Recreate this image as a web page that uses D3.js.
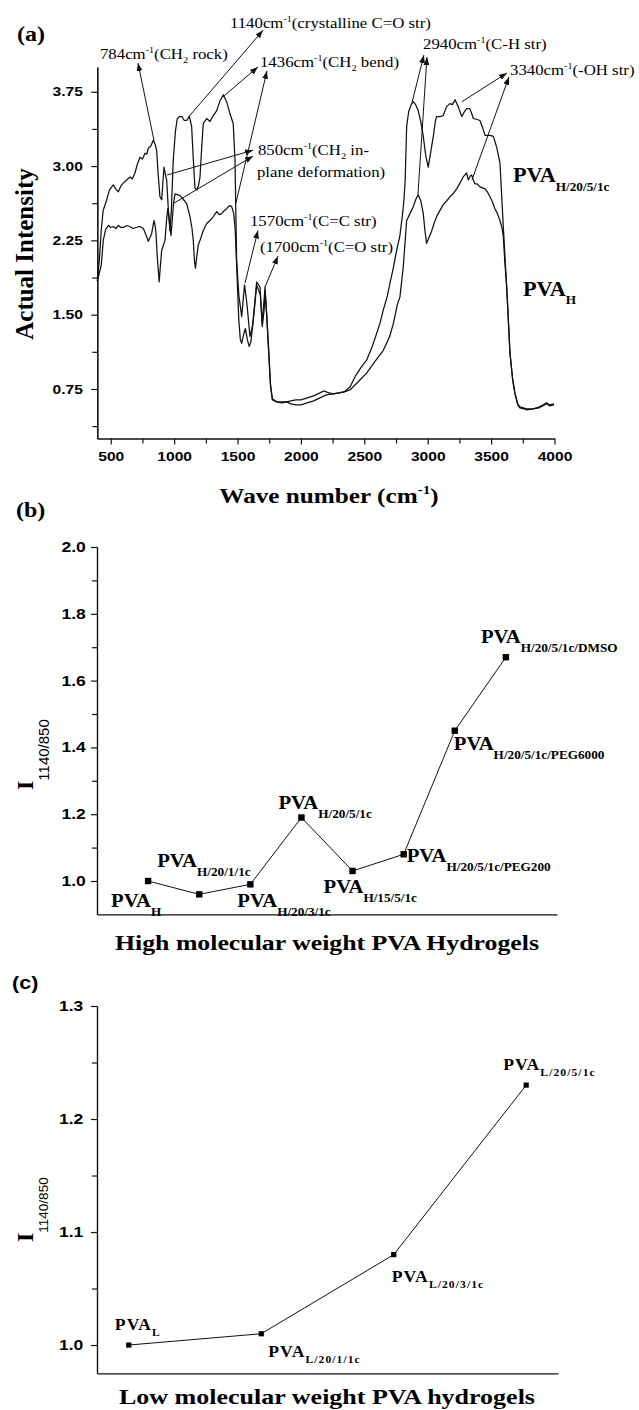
<!DOCTYPE html>
<html>
<head>
<meta charset="utf-8">
<script src="https://cdn.jsdelivr.net/npm/d3@7"></script>
<style>
  html, body { margin: 0; padding: 0; background: #fff; }
  svg { display: block; }
</style>
</head>
<body>
<svg id="fig" width="639" height="1410"></svg>
<script>
// ---------------- data ----------------
// FTIR spectrum of PVA H/20/5/1c : [wave number (cm-1), actual intensity]
const spectrumH2051c = [
  [394,1.84],[410,2.05],[425,2.35],[440,2.55],[468,2.66],[490,2.76],[520,2.81],[545,2.76],[560,2.74],
  [580,2.80],[600,2.83],[625,2.86],[652,2.89],[670,2.87],[691,2.93],[710,3.02],[731,3.09],[750,3.07],
  [770,3.13],[785,3.12],[796,3.18],[815,3.20],[836,3.26],[850,3.22],[862,3.16],[875,2.90],[888,2.69],
  [902,2.66],[912,2.85],[920,2.99],[930,2.92],[941,2.86],[955,2.55],[967,2.35],[978,2.55],[993,3.06],
  [1010,3.35],[1025,3.48],[1045,3.50],[1060,3.50],[1080,3.46],[1099,3.46],[1120,3.50],[1138,3.40],
  [1150,3.10],[1164,2.78],[1178,2.76],[1192,2.80],[1204,2.89],[1218,3.20],[1230,3.43],[1257,3.48],
  [1283,3.45],[1309,3.51],[1336,3.56],[1362,3.66],[1388,3.72],[1414,3.65],[1440,3.53],[1466,3.43],
  [1480,3.06],[1493,2.05],[1510,1.70],[1533,1.48],[1555,1.80],[1575,1.60],[1598,1.28],[1620,1.40],
  [1651,1.83],[1677,1.78],[1695,1.41],[1717,1.78],[1743,1.21],[1760,0.80],[1775,0.65],[1809,0.62],
  [1850,0.62],[1888,0.62],[1920,0.63],[1960,0.64],[2000,0.64],[2050,0.66],[2100,0.68],[2150,0.71],
  [2180,0.73],[2220,0.71],[2260,0.70],[2300,0.71],[2340,0.72],[2387,0.77],[2430,0.88],[2470,0.96],
  [2518,1.04],[2560,1.17],[2597,1.31],[2625,1.42],[2650,1.55],[2680,1.68],[2703,1.82],[2730,1.98],
  [2755,2.15],[2781,2.30],[2800,2.50],[2812,2.65],[2822,2.85],[2834,3.40],[2850,3.55],[2870,3.62],
  [2886,3.65],[2905,3.62],[2925,3.56],[2945,3.45],[2965,3.30],[2985,3.10],[3004,2.99],[3025,3.15],
  [3044,3.30],[3060,3.45],[3070,3.50],[3100,3.50],[3122,3.51],[3149,3.60],[3175,3.63],[3195,3.62],
  [3215,3.67],[3241,3.60],[3268,3.50],[3290,3.55],[3307,3.58],[3333,3.58],[3360,3.48],[3390,3.47],
  [3412,3.46],[3435,3.38],[3452,3.31],[3491,3.31],[3518,3.30],[3544,3.19],[3570,3.03],[3596,2.39],
  [3623,1.78],[3649,1.11],[3670,0.85],[3688,0.71],[3710,0.60],[3727,0.57],[3780,0.55],[3832,0.55],
  [3880,0.57],[3910,0.59],[3938,0.61],[3960,0.59],[3996,0.60]
];
// FTIR spectrum of PVA H
const spectrumH = [
  [394,1.84],[410,1.92],[425,2.00],[441,2.25],[460,2.36],[481,2.40],[500,2.38],[520,2.39],[540,2.37],
  [560,2.40],[580,2.38],[600,2.38],[625,2.40],[650,2.39],[675,2.37],[700,2.38],[730,2.39],[757,2.37],
  [770,2.33],[783,2.29],[796,2.24],[810,2.28],[823,2.32],[841,2.45],[850,2.40],[857,2.32],[866,2.10],
  [875,1.95],[882,1.83],[892,2.00],[902,2.15],[915,2.20],[928,2.25],[940,2.45],[950,2.57],[958,2.50],
  [966,2.40],[975,2.30],[985,2.45],[995,2.62],[1007,2.72],[1030,2.71],[1050,2.70],[1075,2.66],
  [1099,2.62],[1125,2.49],[1140,2.38],[1151,2.25],[1160,2.05],[1168,1.97],[1178,2.08],[1190,2.20],
  [1204,2.25],[1230,2.35],[1257,2.42],[1283,2.45],[1309,2.49],[1336,2.54],[1355,2.51],[1375,2.52],
  [1395,2.55],[1414,2.57],[1436,2.60],[1454,2.59],[1470,2.52],[1482,2.35],[1493,2.00],[1510,1.45],
  [1522,1.25],[1533,1.21],[1548,1.30],[1562,1.36],[1577,1.25],[1592,1.18],[1605,1.22],[1625,1.45],
  [1651,1.80],[1665,1.75],[1680,1.70],[1695,1.38],[1710,1.55],[1717,1.74],[1730,1.50],[1743,1.18],
  [1760,0.78],[1775,0.64],[1809,0.62],[1850,0.61],[1888,0.62],[1920,0.60],[1960,0.59],[2000,0.59],
  [2050,0.61],[2100,0.63],[2150,0.66],[2200,0.69],[2250,0.70],[2300,0.71],[2340,0.72],[2387,0.74],
  [2450,0.82],[2518,0.91],[2580,1.02],[2650,1.14],[2700,1.28],[2729,1.41],[2760,1.60],[2781,1.68],
  [2807,1.98],[2834,2.45],[2860,2.52],[2886,2.59],[2905,2.66],[2925,2.71],[2945,2.65],[2965,2.52],
  [2978,2.35],[2991,2.22],[3010,2.28],[3030,2.34],[3050,2.42],[3070,2.49],[3100,2.56],[3122,2.61],
  [3150,2.65],[3175,2.69],[3200,2.72],[3228,2.77],[3255,2.83],[3280,2.89],[3307,2.93],[3320,2.86],
  [3335,2.90],[3346,2.91],[3360,2.86],[3372,2.82],[3390,2.82],[3412,2.79],[3432,2.78],[3452,2.77],
  [3470,2.74],[3491,2.69],[3510,2.64],[3530,2.57],[3550,2.52],[3570,2.45],[3585,2.38],[3596,2.29],
  [3610,2.00],[3623,1.78],[3649,1.11],[3670,0.84],[3688,0.70],[3710,0.59],[3727,0.56],[3780,0.54],
  [3832,0.55],[3880,0.56],[3910,0.58],[3938,0.60],[3960,0.58],[3996,0.59]
];
const waveTicks = [500, 1000, 1500, 2000, 2500, 3000, 3500, 4000];
const waveMinor = [750, 1250, 1750, 2250, 2750, 3250, 3750];
const intensityTicks = [0.75, 1.50, 2.25, 3.00, 3.75];
const intensityMinor = [0.375, 1.125, 1.875, 2.625, 3.375];

// I(1140)/I(850) ratio, high molecular weight hydrogels
const highSamples = ["H", "H/20/1/1c", "H/20/3/1c", "H/20/5/1c", "H/15/5/1c",
                     "H/20/5/1c/PEG200", "H/20/5/1c/PEG6000", "H/20/5/1c/DMSO"];
const highRatio = [1.00, 0.96, 0.99, 1.19, 1.03, 1.08, 1.45, 1.67];
const highTicks = [1.0, 1.2, 1.4, 1.6, 1.8, 2.0];
const highMinor = [1.1, 1.3, 1.5, 1.7, 1.9];

// I(1140)/I(850) ratio, low molecular weight hydrogels
const lowSamples = ["L", "L/20/1/1c", "L/20/3/1c", "L/20/5/1c"];
const lowRatio = [1.00, 1.01, 1.08, 1.23];
const lowTicks = [1.0, 1.1, 1.2, 1.3];
const lowMinor = [1.05, 1.15, 1.25];

// ---------------- layout / style ----------------
const SERIF = "'Liberation Serif','Times New Roman',serif";
const SANS = "'Liberation Sans',Arial,sans-serif";
const INK = "#111";
const svg = d3.select("#fig");

// text with sub/superscript parts; parts: string or {t, off, size, family, weight}
function richText(g, x, y, parts, o) {
  const t = g.append("text")
    .attr("transform", `translate(${x},${y})` + (o.rotate ? ` rotate(${o.rotate})` : "") +
          ` scale(${o.sx || 1},1)`)
    .attr("font-family", o.family || SERIF)
    .attr("font-size", o.size)
    .attr("font-weight", o.weight || "normal")
    .attr("text-anchor", o.anchor || "start")
    .attr("fill", "#000");
  if (o.spacing) t.attr("letter-spacing", o.spacing);
  if (o.length) t.attr("textLength", o.length).attr("lengthAdjust", "spacingAndGlyphs");
  let shift = 0;
  parts.forEach(p => {
    const q = typeof p === "string" ? { t: p } : p;
    const off = q.off || 0;
    const ts = t.append("tspan").attr("dy", off - shift).text(q.t);
    if (q.size) ts.attr("font-size", q.size);
    if (q.family) ts.attr("font-family", q.family);
    if (q.weight) ts.attr("font-weight", q.weight);
    shift = off;
  });
  return t;
}
const sup = (t, s) => ({ t, off: -s * 0.42, size: s * 0.6 });
const sub = (t, s) => ({ t, off: s * 0.28, size: s * 0.62 });

function styleAxis(g, o) {
  g.selectAll("path.domain").attr("stroke", INK).attr("stroke-width", 1.2);
  g.selectAll(".tick line").attr("stroke", INK).attr("stroke-width", 1.2);
  g.selectAll(".tick text")
    .attr("font-family", SANS).attr("font-weight", "bold")
    .attr("font-size", o.size).attr("fill", "#000")
    .attr("transform", `scale(${o.sx},1)`);
}

// ================= panel (a): FTIR spectra =================
const gA = svg.append("g");
const xA = d3.scaleLinear().domain([394, 4000]).range([97.3, 554.5]);
const yA = d3.scaleLinear().domain([0.25, 4.0]).range([438.5, 67]);

gA.append("g").attr("transform", `translate(0,${yA.range()[0]})`)
  .call(d3.axisBottom(xA).tickValues(waveMinor).tickSize(5).tickSizeOuter(0).tickFormat(""))
  .call(g => styleAxis(g, { size: 13, sx: 1.2 }));
gA.append("g").attr("transform", `translate(0,${yA.range()[0]})`)
  .call(d3.axisBottom(xA).tickValues(waveTicks).tickSize(6).tickPadding(7).tickSizeOuter(0)
        .tickFormat(d3.format("d")))
  .call(g => styleAxis(g, { size: 13, sx: 1.2 }));
gA.append("g").attr("transform", `translate(${xA.range()[0]},0)`)
  .call(d3.axisLeft(yA).tickValues(intensityMinor).tickSize(5).tickSizeOuter(0).tickFormat(""))
  .call(g => styleAxis(g, { size: 13, sx: 1.2 }));
gA.append("g").attr("transform", `translate(${xA.range()[0]},0)`)
  .call(d3.axisLeft(yA).tickValues(intensityTicks).tickSize(6).tickPadding(6).tickSizeOuter(0)
        .tickFormat(d3.format(".2f")))
  .call(g => styleAxis(g, { size: 13, sx: 1.2 }));

const lineA = d3.line().x(d => xA(d[0])).y(d => yA(d[1]));
[spectrumH2051c, spectrumH].forEach(s => {
  gA.append("path").datum(s).attr("d", lineA)
    .attr("fill", "none").attr("stroke", INK).attr("stroke-width", 1.25)
    .attr("stroke-linejoin", "round");
});

// band assignment arrows (drawn in data units, head at the label end)
svg.append("defs").append("marker")
  .attr("id", "head").attr("viewBox", "0 0 8 6").attr("refX", 8).attr("refY", 3)
  .attr("markerWidth", 8).attr("markerHeight", 6).attr("markerUnits", "userSpaceOnUse")
  .attr("orient", "auto")
  .append("path").attr("d", "M0,0 L8,3 L0,6 Z").attr("fill", INK);

const bandArrows = [
  [[841, 3.26], [715, 4.04]],
  [[1110, 3.49], [1701, 4.37]],
  [[1385, 3.70], [1661, 4.00]],
  [[1488, 2.63], [1732, 3.96]],
  [[944, 2.91], [1622, 3.16]],
  [[991, 2.62], [1622, 3.10]],
  [[1559, 1.82], [1661, 2.35]],
  [[1717, 1.78], [1819, 2.09]],
  [[2876, 3.64], [2970, 4.12]],
  [[2923, 2.71], [2994, 4.10]],
  [[3270, 3.65], [3625, 3.94]],
  [[3349, 2.86], [3641, 3.90]]
];
bandArrows.forEach(([a, b]) => {
  gA.append("line")
    .attr("x1", xA(a[0])).attr("y1", yA(a[1])).attr("x2", xA(b[0])).attr("y2", yA(b[1]))
    .attr("stroke", INK).attr("stroke-width", 1).attr("marker-end", "url(#head)");
});

const AS = 14, ASX = 1.2;
const bandLabels = [
  { at: [415, 4.08], parts: ["784cm", sup("-1", AS), "(CH", sub("2", AS), " rock)"] },
  { at: [1440, 4.39], parts: ["1140cm", sup("-1", AS), "(crystalline C=O str)"] },
  { at: [1677, 4.00], parts: ["1436cm", sup("-1", AS), "(CH", sub("2", AS), " bend)"] },
  { at: [1661, 3.11], parts: ["850cm", sup("-1", AS), "(CH", sub("2", AS), " in-"] },
  { at: [1653, 2.89], parts: ["plane deformation)"] },
  { at: [2963, 4.18], parts: ["2940cm", sup("-1", AS), "(C-H str)"] },
  { at: [3649, 3.92], parts: ["3340cm", sup("-1", AS), "(-OH str)"] },
  { at: [1598, 2.40], parts: ["1570cm", sup("-1", AS), "(C=C str)"] },
  { at: [1677, 2.13], parts: ["(1700cm", sup("-1", AS), "(C=O str)"] }
];
bandLabels.forEach(l => {
  richText(gA, xA(l.at[0]), yA(l.at[1]), l.parts, { size: AS, sx: ASX });
});

// series names
richText(gA, xA(3672), yA(2.84),
  ["PVA", { t: "H/20/5/1c", off: 9, size: 12.5 }],
  { size: 21, weight: "bold", sx: 1.06 });
richText(gA, xA(3751), yA(1.69),
  ["PVA", { t: "H", off: 8, size: 12.5 }],
  { size: 21, weight: "bold", sx: 1.06 });

richText(gA, 17, 41, ["(a)"], { size: 20, weight: "bold", sx: 1.2 });
richText(gA, 33, 254, ["Actual Intensity"], { size: 25, weight: "bold", rotate: -90, anchor: "middle" });
richText(gA, 329, 503, ["Wave number (cm", sup("-1", 21), ")"],
  { size: 21, weight: "bold", anchor: "middle", sx: 1.2 });

// ================= panel (b): high molecular weight =================
const gB = svg.append("g");
const xB = d3.scaleLinear().domain([-1, 8]).range([97, 557]);
const yB = d3.scaleLinear().domain([0.9, 2.0]).range([914.4, 547]);

gB.append("g").attr("transform", `translate(0,${yB.range()[0]})`)
  .call(d3.axisBottom(xB).tickValues([]).tickSizeOuter(0))
  .call(g => styleAxis(g, { size: 14, sx: 1.25 }));
gB.append("g").attr("transform", `translate(${xB.range()[0]},0)`)
  .call(d3.axisLeft(yB).tickValues(highMinor).tickSize(5).tickSizeOuter(0).tickFormat(""))
  .call(g => styleAxis(g, { size: 14, sx: 1.25 }));
gB.append("g").attr("transform", `translate(${xB.range()[0]},0)`)
  .call(d3.axisLeft(yB).tickValues(highTicks).tickSize(6).tickPadding(3).tickSizeOuter(0)
        .tickFormat(d3.format(".1f")))
  .call(g => styleAxis(g, { size: 14, sx: 1.25 }));

gB.append("path").datum(highRatio)
  .attr("d", d3.line().x((d, i) => xB(i)).y(d => yB(d)))
  .attr("fill", "none").attr("stroke", INK).attr("stroke-width", 1);
gB.selectAll("rect.pt").data(highRatio).join("rect").attr("class", "pt")
  .attr("x", (d, i) => xB(i) - 3.2).attr("y", d => yB(d) - 3.2)
  .attr("width", 6.4).attr("height", 6.4).attr("fill", "#000");

// label placement relative to each point: [dx, dy] of the "PVA" baseline start
const highLabelOffset = [[-37, 26], [-42, -27], [-13, 23], [-23, -9], [-29, 22], [3, 8], [-1, 19], [-25, -14]];
highSamples.forEach((s, i) => {
  const [dx, dy] = highLabelOffset[i];
  richText(gB, xB(i) + dx, yB(highRatio[i]) + dy,
    ["PVA", { t: s, off: 9, size: 11.5 }],
    { size: 18, weight: "bold", sx: 1.15 });
});

richText(gB, 16, 517, ["(b)"], { size: 20, weight: "bold", sx: 1.2 });
richText(gB, 33, 790,
  ["I", { t: "1140/850", off: 16, size: 15, family: SANS, weight: "normal" }],
  { size: 24, weight: "bold", rotate: -90 });
richText(gB, 327, 950, ["High molecular weight PVA Hydrogels"],
  { size: 20, weight: "bold", anchor: "middle", length: 424 });

// ================= panel (c): low molecular weight =================
const gC = svg.append("g");
const xC = d3.scaleLinear().domain([-0.24, 3.24]).range([97, 558]);
const yC = d3.scaleLinear().domain([0.975, 1.3]).range([1373.3, 1006]);

gC.append("g").attr("transform", `translate(0,${yC.range()[0]})`)
  .call(d3.axisBottom(xC).tickValues([]).tickSizeOuter(0))
  .call(g => styleAxis(g, { size: 14, sx: 1.25 }));
gC.append("g").attr("transform", `translate(${xC.range()[0]},0)`)
  .call(d3.axisLeft(yC).tickValues(lowMinor).tickSize(5).tickSizeOuter(0).tickFormat(""))
  .call(g => styleAxis(g, { size: 14, sx: 1.25 }));
gC.append("g").attr("transform", `translate(${xC.range()[0]},0)`)
  .call(d3.axisLeft(yC).tickValues(lowTicks).tickSize(6).tickPadding(5).tickSizeOuter(0)
        .tickFormat(d3.format(".1f")))
  .call(g => styleAxis(g, { size: 14, sx: 1.25 }));

gC.append("path").datum(lowRatio)
  .attr("d", d3.line().x((d, i) => xC(i)).y(d => yC(d)))
  .attr("fill", "none").attr("stroke", INK).attr("stroke-width", 1);
gC.selectAll("rect.pt").data(lowRatio).join("rect").attr("class", "pt")
  .attr("x", (d, i) => xC(i) - 2.6).attr("y", d => yC(d) - 2.6)
  .attr("width", 5.2).attr("height", 5.2).attr("fill", "#000");

const lowLabelOffset = [[-14, -15], [7, 23], [-2, 27], [-23, -15]];
lowSamples.forEach((s, i) => {
  const [dx, dy] = lowLabelOffset[i];
  richText(gC, xC(i) + dx, yC(lowRatio[i]) + dy,
    ["PVA", { t: s, off: 6, size: 10.5 }],
    { size: 16, weight: "bold", sx: 1.1, spacing: 1 });
});

richText(gC, 12, 989, ["(c)"], { size: 18, weight: "bold", family: SANS, sx: 1.2 });
richText(gC, 33, 1242,
  ["I", { t: "1140/850", off: 15, size: 13.5, family: SANS, weight: "normal" }],
  { size: 24, weight: "bold", rotate: -90 });
richText(gC, 327, 1404, ["Low molecular weight PVA hydrogels"],
  { size: 20, weight: "bold", anchor: "middle", length: 416 });
</script>
</body>
</html>
